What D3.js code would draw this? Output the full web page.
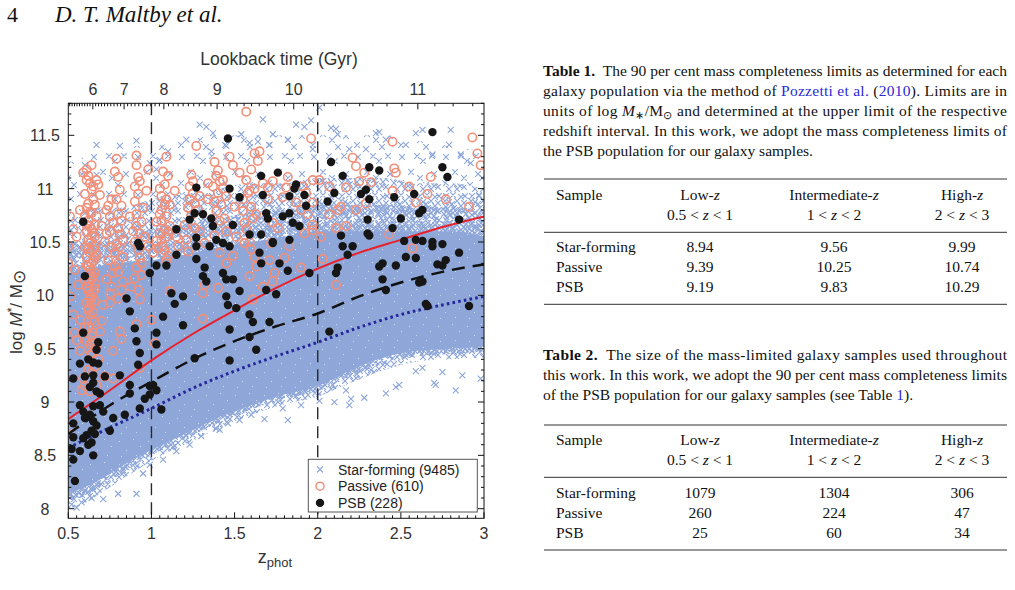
<!DOCTYPE html>
<html><head><meta charset="utf-8">
<script src="https://cdn.jsdelivr.net/npm/d3@7"></script>
<style>
html,body{margin:0;padding:0;background:#fff;}
svg{display:block;}
</style></head>
<body>
<svg id="page" width="1015" height="590"></svg>
<script>
// ---------------- DATA ----------------
const zTicks = [0.5, 1, 1.5, 2, 2.5, 3];
const massTicks = [8, 8.5, 9, 9.5, 10, 10.5, 11, 11.5];
const lookbackTicks = [6, 7, 8, 9, 10, 11];
const zBinEdges = [1, 2];

// 90 per cent completeness limit curves
const limitZ       = [0.5, 0.75, 1, 1.25, 1.5, 1.75, 2, 2.25, 2.5, 2.75, 3];
const limitPassive = [8.84, 9.11, 9.39, 9.64, 9.86, 10.07, 10.25, 10.40, 10.52, 10.64, 10.74];
const limitPSB     = [8.70, 8.97, 9.19, 9.40, 9.57, 9.71, 9.83, 9.99, 10.12, 10.22, 10.29];
const limitSF      = [8.57, 8.76, 8.94, 9.13, 9.29, 9.43, 9.56, 9.70, 9.82, 9.91, 9.99];

// star-forming cloud: density envelopes (log M) on a z grid
const sfZ        = [0.5, 0.6, 0.7, 0.8, 0.9, 1.0, 1.2, 1.4, 1.6, 1.8, 2.0, 2.2, 2.4, 2.6, 2.8, 3.0];
const sfCoreLo   = [8.15, 8.20, 8.28, 8.38, 8.47, 8.55, 8.70, 8.85, 8.97, 9.07, 9.15, 9.30, 9.42, 9.48, 9.50, 9.52];
const sfCoreHi   = [10.20, 10.25, 10.28, 10.30, 10.32, 10.33, 10.38, 10.45, 10.50, 10.55, 10.60, 10.60, 10.60, 10.60, 10.60, 10.55];
const sfMidLo    = [8.07, 8.12, 8.21, 8.31, 8.41, 8.50, 8.65, 8.80, 8.93, 9.03, 9.10, 9.24, 9.36, 9.43, 9.45, 9.47];
const sfMidHi    = [10.48, 10.52, 10.55, 10.56, 10.58, 10.62, 10.66, 10.72, 10.78, 10.80, 10.85, 10.85, 10.85, 10.83, 10.83, 10.78];
const sfDenseLo  = [8.00, 8.05, 8.15, 8.25, 8.35, 8.45, 8.60, 8.75, 8.88, 8.98, 9.05, 9.18, 9.30, 9.38, 9.40, 9.42];
const sfDenseHi  = [10.75, 10.80, 10.82, 10.82, 10.85, 10.90, 10.95, 11.00, 11.05, 11.05, 11.10, 11.10, 11.10, 11.05, 11.05, 11.00];
const sfSparseHi = [11.25, 11.30, 11.35, 11.35, 11.40, 11.40, 11.45, 11.50, 11.50, 11.50, 11.50, 11.50, 11.50, 11.45, 11.40, 11.35];

// individually visible star-forming outliers [z, logM]
const sfOutliers = [
[0.67,11.41],[0.81,11.40],[0.91,11.45],[1.10,11.35],[1.29,11.60],[1.33,11.58],[1.37,11.52],[1.54,11.51],[1.67,11.65],[1.64,11.44],
[1.21,11.46],[1.45,11.40],[1.36,11.35],[1.71,11.41],[1.59,11.43],[0.60,11.22],[0.67,11.13],[0.99,11.24],[1.05,11.27],[1.03,11.18],
[1.96,11.64],[2.01,11.76],[2.08,11.57],[2.11,11.56],[2.12,11.51],[2.35,11.52],[2.37,11.53],[2.41,11.46],[2.59,11.52],[2.63,11.55],
[2.79,11.41],[2.80,11.55],[1.73,11.51],[1.82,11.46],[1.87,11.60],[1.92,11.58],[1.97,11.37],[2.53,11.41],[2.69,11.32],[2.86,11.32],
[2.92,11.24],[2.99,11.10],[2.97,10.93],[2.29,11.37],[2.19,11.37],
[0.80,8.14],[0.91,8.14],[0.95,8.33],[0.99,8.41],[1.07,8.46],[1.13,8.58],[1.15,8.54],[1.23,8.60],[1.30,8.68],[1.39,8.75],[1.41,8.74],
[1.46,8.80],[1.53,8.83],[1.60,8.88],[1.68,8.84],[0.71,8.09],[0.64,8.10],[0.55,8.01],[0.52,8.04],[0.58,8.06],
[1.82,8.83],[1.79,8.94],[1.90,8.97],[2.01,9.01],[2.10,9.00],[2.19,8.97],[2.20,9.03],[2.28,9.04],[2.41,9.08],[2.47,9.14],[2.49,9.16],
[2.70,9.18],[2.71,9.16],[2.83,9.11],[2.75,9.28],[2.87,9.25],[2.98,9.22],[2.59,9.29],[2.63,9.32],[2.09,9.16],[2.17,9.11],[1.95,9.21]
];

// passive galaxies [z, logM]
const passive = [
[1.57,11.72],[1.27,11.40],[0.79,11.28],[0.91,11.31],[0.64,11.22],[0.61,11.18],[0.59,11.15],[0.61,11.08],[0.63,11.05],[0.65,11.02],
[0.68,11.04],[0.69,10.94],[0.64,10.99],[0.78,11.16],[0.80,11.11],[0.81,10.99],[0.79,10.90],[0.91,11.22],[0.92,11.11],[0.93,11.07],
[0.90,11.02],[0.98,11.18],[0.97,10.98],[1.09,11.30],[1.07,11.16],[1.10,11.12],[1.08,11.04],[1.14,10.98],[1.09,10.90],[1.11,10.85],
[1.24,11.13],[1.25,11.07],[1.23,11.02],[1.29,10.93],[1.22,10.82],[1.38,11.25],[1.39,11.12],[1.41,11.07],[1.43,11.08],[1.37,11.02],
[1.40,10.96],[1.45,10.93],[1.47,11.30],[1.49,11.22],[1.53,11.15],[1.62,11.33],[1.65,11.35],[1.64,11.26],[1.60,11.18],[1.67,11.05],[1.70,11.01],
[0.51,10.74],[0.57,10.80],[0.61,10.82],[0.64,10.77],[0.67,10.74],[0.63,10.65],[0.65,10.58],[0.62,10.52],[0.66,10.46],[0.63,10.40],
[0.65,10.33],[0.62,10.27],[0.66,10.21],[0.64,10.15],[0.61,10.08],[0.65,10.02],[0.63,9.96],[0.62,10.70],[0.64,10.62],[0.66,10.55],
[0.63,10.49],[0.65,10.43],[0.61,10.36],[0.64,10.30],[0.63,10.24],[0.65,10.18],[0.62,10.12],[0.66,10.06],[0.63,10.00],[0.64,9.92],
[0.62,9.88],[0.65,9.84],[0.61,10.60],[0.66,10.66],[0.60,10.45],[0.67,10.38],[0.62,10.86],[0.65,10.90],[0.60,10.95],[0.67,11.08],[0.62,11.12],
[0.60,10.75],[0.63,10.78],[0.66,10.85],[0.61,10.66],[0.64,10.56],[0.62,10.44],[0.66,10.35],[0.61,10.28],[0.63,10.20],[0.60,10.14],
[0.66,10.11],[0.62,10.04],[0.64,9.98],[0.66,9.95],[0.61,9.93],[0.63,9.82],[0.66,9.75],[0.62,9.70],[0.64,9.62],[0.61,9.57],
[0.65,9.55],[0.63,9.44],[0.66,9.33],[0.64,9.27],[0.62,9.20],[0.67,9.16],[0.63,9.10],
[0.50,10.46],[0.50,10.30],[0.54,10.24],[0.56,10.10],[0.51,9.99],[0.55,10.55],[0.53,10.62],
[0.73,10.80],[0.75,10.74],[0.70,10.65],[0.75,10.60],[0.80,10.63],[0.81,10.57],[0.83,10.52],[0.78,10.40],[0.80,10.30],[0.77,10.21],
[0.83,10.13],[0.75,10.02],[0.79,10.48],[0.76,10.90],[0.82,10.84],[0.72,10.50],
[0.74,10.84],[0.77,10.68],[0.73,10.58],[0.76,10.45],[0.74,10.33],[0.78,10.27],[0.73,10.15],[0.76,10.08],
[0.80,10.76],[0.82,10.70],[0.81,10.45],[0.83,10.36],[0.80,10.22],[0.82,10.05],[0.80,9.97],
[0.87,10.74],[0.91,10.76],[0.94,10.69],[0.89,10.60],[0.96,10.55],[0.98,10.46],[0.93,10.35],[0.91,10.26],[0.94,10.19],[0.88,10.08],
[0.93,9.96],[0.90,10.88],[0.92,10.95],[0.95,10.82],
[0.91,10.65],[0.93,10.58],[0.90,10.50],[0.92,10.43],[0.94,10.30],[0.90,10.16],[0.92,10.05],
[1.06,10.80],[1.09,10.74],[1.03,10.69],[1.11,10.65],[1.05,10.58],[1.09,10.55],[1.03,10.51],[1.07,10.46],[1.01,10.40],[1.10,10.37],
[1.15,10.55],[1.21,10.52],[1.16,10.46],[1.22,10.41],[1.11,10.04],[1.08,10.62],[1.06,10.70],[1.05,11.00],
[1.06,10.93],[1.08,10.85],[1.05,10.76],[1.10,10.60],[1.06,10.52],[1.04,10.44],[1.08,10.42],[1.09,10.33],
[1.25,10.96],[1.23,10.90],[1.26,10.86],[1.24,10.75],[1.20,10.66],[1.26,10.63],
[1.34,10.90],[1.39,10.79],[1.44,10.72],[1.50,10.83],[1.55,10.79],[1.60,10.83],[1.63,10.76],[1.56,10.68],[1.51,10.55],[1.56,10.49],
[1.60,10.43],[1.70,10.90],[1.29,10.60],[1.32,10.49],[1.41,10.40],[1.45,10.30],[1.49,10.37],[1.31,10.02],[1.32,10.10],[1.59,10.18],
[1.63,10.27],[1.71,10.33],[1.67,10.08],[1.61,9.96],[1.28,10.80],[1.34,11.05],[1.58,10.96],[1.62,11.00],[1.40,10.07],
[1.40,11.17],[1.43,11.00],[1.38,10.88],[1.42,10.85],[1.41,10.70],[1.45,10.60],[1.38,10.56],
[1.57,11.08],[1.59,10.98],[1.55,10.90],[1.61,10.72],[1.57,10.62],[1.59,10.50],[1.62,10.36],
[0.53,9.82],[0.54,9.65],[0.57,9.77],[0.62,9.86],[0.64,9.77],[0.65,9.65],[0.69,9.66],[0.71,9.91],[0.75,9.93],[0.81,9.66],
[0.82,9.59],[0.77,9.48],[0.57,9.48],[0.63,9.54],[0.67,9.52],[0.65,9.46],[0.59,9.22],[0.60,9.15],[0.58,9.11],[0.72,9.24],
[0.77,9.22],[0.51,8.77],[0.91,9.73],[1.00,9.77],[1.02,9.55],[0.93,9.32],[1.31,9.78],[0.55,9.58],[0.60,9.70],[0.62,9.30],[0.68,9.40],[0.70,9.76],
[1.96,11.47],[2.21,11.29],[2.23,11.21],[2.45,11.44],[2.46,11.19],[2.47,11.15],[2.68,11.11],[2.93,11.48],[2.96,11.33],[2.98,11.22],
[1.73,11.07],[1.82,11.11],[1.81,11.01],[1.91,11.02],[1.97,11.08],[2.01,11.08],[2.07,11.02],[2.17,11.01],[2.25,11.07],[2.28,11.15],
[2.32,11.06],[2.55,11.02],[2.66,10.95],[2.77,10.90],[2.91,10.83],
[1.79,10.92],[1.87,10.87],[1.93,10.96],[1.97,10.87],[2.07,10.76],[2.12,10.80],[2.14,10.83],[2.23,10.80],[2.29,10.86],[2.45,10.98],[2.59,10.87],
[1.73,10.68],[1.76,10.63],[1.90,10.80],[1.94,10.76],[1.97,10.66],[2.11,10.63],[2.17,10.65],[1.92,10.58],[1.97,10.61],[2.43,10.57],
[2.57,10.44],[1.72,10.49],[1.83,10.46],[2.02,10.55],[2.03,10.34],[1.74,10.21],[1.90,10.26],[1.73,10.13],[2.11,10.10],[1.80,10.35]
];

// post-starburst galaxies [z, logM]
const psb = [
[1.46,11.47],[1.27,11.01],[1.47,11.00],[1.53,10.92],[1.66,11.12],[1.67,10.94],[0.59,10.69],[0.92,10.49],[0.93,10.46],[1.15,10.62],
[1.26,10.77],[1.31,10.76],[1.23,10.71],[1.36,10.72],[1.37,10.65],[1.49,10.66],[1.27,10.54],[1.27,10.46],[1.35,10.46],[1.39,10.52],
[1.43,10.49],[1.47,10.46],[1.59,10.57],[1.66,10.57],[1.73,10.49],[1.69,10.77],[1.70,10.72],[1.15,10.38],[1.03,10.28],[1.09,10.28],
[0.99,10.21],[0.60,10.18],[1.27,10.34],[1.32,10.26],[1.31,10.18],[1.33,10.13],[1.43,10.21],[1.45,10.15],[1.49,10.15],[1.53,10.04],
[1.65,10.40],[1.66,10.30],[1.12,10.02],[1.19,9.99],[1.14,9.92],[0.85,9.97],[1.45,9.99],[1.46,9.91],[1.69,10.05],
[2.69,11.53],[2.08,11.25],[1.76,11.15],[2.31,11.20],[2.37,11.17],[2.75,11.20],[2.78,11.11],[2.15,11.12],[1.87,11.04],[1.86,11.00],
[1.92,10.94],[1.83,10.93],[2.10,10.96],[2.06,10.88],[2.26,10.95],[2.29,10.99],[2.31,10.90],[2.46,10.92],[2.58,10.95],[2.63,10.80],
[2.61,10.77],[1.93,10.84],[1.79,10.74],[1.83,10.77],[1.85,10.68],[1.89,10.65],[2.50,10.72],[2.30,10.71],[2.45,10.63],[2.85,10.71],
[1.83,10.52],[1.73,10.50],[2.14,10.56],[2.30,10.58],[2.31,10.56],[2.15,10.46],[2.21,10.46],[2.52,10.51],[2.59,10.52],[2.63,10.51],
[2.69,10.50],[2.69,10.46],[2.75,10.48],[2.18,10.38],[2.85,10.40],[2.53,10.36],[2.59,10.35],[1.77,10.30],[1.82,10.23],[2.39,10.30],
[2.37,10.27],[2.47,10.28],[2.72,10.29],[2.75,10.28],[2.77,10.33],[2.12,10.26],[2.11,10.21],[1.95,10.21],[2.39,10.15],[2.61,10.12],
[2.63,10.13],[2.41,10.05],[1.75,10.01],[2.65,9.92],[2.91,9.90],
[1.07,9.80],[1.19,9.72],[0.87,9.85],[0.59,9.65],[0.68,9.56],[0.67,9.49],[0.90,9.69],[0.91,9.57],[0.93,9.46],[1.03,9.65],
[1.03,9.54],[0.53,9.22],[0.57,9.36],[0.62,9.40],[0.65,9.37],[0.68,9.36],[0.60,9.24],[0.65,9.25],[0.72,9.24],[0.81,9.25],
[0.92,9.35],[0.63,9.14],[0.65,9.18],[0.67,9.10],[0.69,9.08],[0.87,9.16],[0.87,9.08],[0.99,9.15],[1.01,9.16],[0.99,9.07],
[0.96,9.03],[1.03,9.11],[0.93,8.94],[1.06,8.93],[0.57,8.97],[0.59,8.91],[0.63,8.88],[0.65,8.96],[0.69,8.97],[0.71,8.91],
[0.77,8.85],[0.84,8.88],[0.53,8.80],[0.65,8.82],[0.67,8.78],[0.64,8.73],[0.61,8.69],[0.75,8.73],[0.53,8.67],[0.59,8.66],
[0.64,8.62],[0.52,8.56],[0.57,8.54],[0.65,8.50],[0.53,8.46],[0.54,8.26],[1.47,9.39],[1.26,9.41],[1.47,9.68],[1.51,9.88],
[1.59,9.82],[1.61,9.75],[1.71,9.75],[1.59,9.61],[1.63,9.49],[2.07,9.66],[2.66,9.90],[0.62,8.60],[0.66,8.70],[0.60,8.85]
];

const legendLabels = ['Star-forming (9485)', 'Passive (610)', 'PSB (228)'];

// tables
const tableSamples = ['Star-forming', 'Passive', 'PSB'];
const binNames = ['Low-', 'Intermediate-', 'High-'];
const binRanges = [['0.5', '1'], ['1', '2'], ['2', '3']];
const massLimits = [['8.94', '9.56', '9.99'], ['9.39', '10.25', '10.74'], ['9.19', '9.83', '10.29']];
const sampleSizes = [['1079', '1304', '306'], ['260', '224', '47'], ['25', '60', '34']];

// ---------------- STYLE ----------------
const SF_COL = '#8ea7d8', PAS_COL = '#f28f78', PSB_COL = '#161616';
const SANS = '"Liberation Sans", Arial, Helvetica, sans-serif';
const SERIF = '"Liberation Serif", "Times New Roman", Times, serif';
const LINK = '#2a2ad6';

const svg = d3.select('#page');
const X0 = 68.3, X1 = 484, Y0 = 103.3, Y1 = 518.3;
const x = d3.scaleLinear().domain([0.5, 3]).range([X0, X1]);
const y = d3.scaleLinear().domain([7.91, 11.80]).range([Y1, Y0]);

// lookback time (flat LCDM, H0=70, Om=0.3) -> redshift
const AH = 11.130, BH = Math.sqrt(0.7 / 0.3), AGE0 = AH * Math.asinh(BH);
const zFromLookback = t => Math.pow(Math.sinh((AGE0 - t) / AH) / BH, -2 / 3) - 1;

// ---------------- HEADER ----------------
svg.append('text').attr('x', 7).attr('y', 22).style('font', `22px ${SERIF}`).attr('fill', '#111').text('4');
svg.append('text').attr('x', 55).attr('y', 22).style('font', `italic 23px ${SERIF}`).attr('fill', '#111').text('D. T. Maltby et al.');

// ---------------- DEFS ----------------
const defs = svg.append('defs');
defs.append('clipPath').attr('id', 'plotClip').append('rect')
  .attr('x', X0).attr('y', Y0).attr('width', X1 - X0).attr('height', Y1 - Y0);

const crossPath = (cx, cy, s) => `M${cx - s},${cy - s}L${cx + s},${cy + s}M${cx - s},${cy + s}L${cx + s},${cy - s}`;

const pCore = defs.append('pattern').attr('id', 'sfCore').attr('patternUnits', 'userSpaceOnUse').attr('width', 29).attr('height', 23);
pCore.append('rect').attr('width', 29).attr('height', 23).attr('fill', SF_COL);
[[3,4],[17,2],[10,13],[24,9],[5,19],[20,18]].forEach(([a, b]) =>
  pCore.append('rect').attr('x', a).attr('y', b).attr('width', 1).attr('height', 1).attr('fill', '#fff').attr('opacity', 0.6));

const pMid = defs.append('pattern').attr('id', 'sfMid').attr('patternUnits', 'userSpaceOnUse').attr('width', 22).attr('height', 20);
pMid.append('path').attr('fill', 'none').attr('stroke', SF_COL).attr('stroke-width', 1.3)
  .attr('d', [[4,4],[10,3],[17,5],[7,9],[13,8],[19,11],[4,14],[10,15],[16,16],[3,9],[13,13],[19,3],[7,18],[18,19]]
    .map(([a, b]) => crossPath(a, b, 2.8)).join(''));

const pDense = defs.append('pattern').attr('id', 'sfDense').attr('patternUnits', 'userSpaceOnUse').attr('width', 26).attr('height', 24);
pDense.append('path').attr('fill', 'none').attr('stroke', SF_COL).attr('stroke-width', 1.2)
  .attr('d', [[4,4],[11,3],[19,5],[7,10],[15,9],[22,11],[4,15],[12,16],[19,14],[7,21],[15,21],[22,19],[10,12],[18,18],[23,4],[3,9]]
    .map(([a, b]) => crossPath(a, b, 2.8)).join(''));

const pSparse = defs.append('pattern').attr('id', 'sfSparse').attr('patternUnits', 'userSpaceOnUse').attr('width', 44).attr('height', 38);
pSparse.append('path').attr('fill', 'none').attr('stroke', SF_COL).attr('stroke-width', 1.1)
  .attr('d', [[6,5],[27,9],[38,22],[15,20],[5,31],[30,33],[21,4],[36,4],[24,26]].map(([a, b]) => crossPath(a, b, 2.8)).join(''));

// ---------------- PLOT ----------------
const plot = svg.append('g').attr('clip-path', 'url(#plotClip)');
const band = (lo, hi) => d3.area().curve(d3.curveMonotoneX)
  .x((d, i) => x(sfZ[i])).y0((d, i) => y(lo[i])).y1((d, i) => y(hi[i]))(sfZ);

plot.append('path').attr('d', band(sfDenseHi, sfSparseHi)).attr('fill', 'url(#sfSparse)');
plot.append('path').attr('d', band(sfDenseLo, sfDenseHi)).attr('fill', 'url(#sfDense)');
plot.append('path').attr('d', band(sfMidLo, sfMidHi)).attr('fill', 'url(#sfMid)');
plot.append('path').attr('d', band(sfCoreLo, sfCoreHi)).attr('fill', 'url(#sfCore)');

plot.append('g').selectAll('path').data(sfOutliers).join('path')
  .attr('d', d => crossPath(x(d[0]), y(d[1]), 3))
  .attr('fill', 'none').attr('stroke', SF_COL).attr('stroke-width', 1.1);

// redshift bin edges
plot.append('g').selectAll('line').data(zBinEdges).join('line')
  .attr('x1', d => x(d)).attr('x2', d => x(d)).attr('y1', Y0).attr('y2', Y1)
  .attr('stroke', '#2a2a2a').attr('stroke-width', 1.4).attr('stroke-dasharray', '12,7');

// passive
plot.append('g').selectAll('circle').data(passive).join('circle')
  .attr('cx', d => x(d[0])).attr('cy', d => y(d[1])).attr('r', 4.2)
  .attr('fill', 'none').attr('stroke', PAS_COL).attr('stroke-width', 1.6);

// limit curves
const limLine = vals => d3.line().curve(d3.curveMonotoneX).x((d, i) => x(limitZ[i])).y((d, i) => y(vals[i]))(limitZ);
plot.append('path').attr('d', limLine(limitSF)).attr('fill', 'none').attr('stroke', '#26269a')
  .attr('stroke-width', 3).attr('stroke-dasharray', '2.6,3.2');
plot.append('path').attr('d', limLine(limitPSB)).attr('fill', 'none').attr('stroke', '#111')
  .attr('stroke-width', 2.5).attr('stroke-dasharray', '13,8');
plot.append('path').attr('d', limLine(limitPassive)).attr('fill', 'none').attr('stroke', '#e8202a')
  .attr('stroke-width', 2);

// PSB
plot.append('g').selectAll('circle').data(psb).join('circle')
  .attr('cx', d => x(d[0])).attr('cy', d => y(d[1])).attr('r', 4.2)
  .attr('fill', PSB_COL);

// ---------------- AXES ----------------
const ax = svg.append('g').attr('stroke', '#111').attr('stroke-width', 1);
const yMinor = y.ticks(40).filter(v => !massTicks.some(m => Math.abs(m - v) < 1e-6));
[[X0, 1], [X1, -1]].forEach(([xx, dir]) => {
  ax.append('g').selectAll('line').data(massTicks).join('line')
    .attr('x1', xx).attr('x2', xx + dir * 6).attr('y1', d => y(d)).attr('y2', d => y(d));
  ax.append('g').selectAll('line').data(yMinor).join('line')
    .attr('x1', xx).attr('x2', xx + dir * 3).attr('y1', d => y(d)).attr('y2', d => y(d));
});
const xMinor = x.ticks(50).filter(v => !zTicks.some(m => Math.abs(m - v) < 1e-6));
ax.append('g').selectAll('line').data(zTicks).join('line')
  .attr('x1', d => x(d)).attr('x2', d => x(d)).attr('y1', Y1).attr('y2', Y1 - 6);
ax.append('g').selectAll('line').data(xMinor).join('line')
  .attr('x1', d => x(d)).attr('x2', d => x(d)).attr('y1', Y1).attr('y2', Y1 - 3);
const lbMinor = d3.range(51, 114).map(v => v / 10)
  .filter(t => !lookbackTicks.includes(t))
  .map(zFromLookback).filter(z => z > 0.5 && z < 3);
ax.append('g').selectAll('line').data(lookbackTicks).join('line')
  .attr('x1', d => x(zFromLookback(d))).attr('x2', d => x(zFromLookback(d))).attr('y1', Y0).attr('y2', Y0 + 6);
ax.append('g').selectAll('line').data(lbMinor).join('line')
  .attr('x1', d => x(d)).attr('x2', d => x(d)).attr('y1', Y0).attr('y2', Y0 + 3);
svg.append('rect').attr('x', X0).attr('y', Y0).attr('width', X1 - X0).attr('height', Y1 - Y0)
  .attr('fill', 'none').attr('stroke', '#111').attr('stroke-width', 1);

// tick labels
const lab = svg.append('g').style('font', `16px ${SANS}`).attr('fill', '#333').attr('text-anchor', 'middle');
lab.selectAll('text.ym').data(massTicks).join('text').attr('class', 'ym')
  .attr('x', 45).attr('y', d => y(d) + 6).text(d => d3.format('')(d));
lab.selectAll('text.zx').data(zTicks).join('text').attr('class', 'zx')
  .attr('x', d => x(d)).attr('y', 539).text(d => d);
lab.selectAll('text.lb').data(lookbackTicks).join('text').attr('class', 'lb')
  .attr('x', d => x(zFromLookback(d))).attr('y', 95).text(d => d);

svg.append('text').attr('x', 279).attr('y', 65).attr('text-anchor', 'middle')
  .style('font', `17.5px ${SANS}`).attr('fill', '#333').text('Lookback time (Gyr)');

const xl = svg.append('text').attr('x', 275).attr('y', 563).attr('text-anchor', 'middle')
  .style('font', `18px ${SANS}`).attr('fill', '#333');
xl.append('tspan').text('z');
xl.append('tspan').attr('dy', 4).style('font-size', '13px').text('phot');

const yl = svg.append('text').attr('transform', 'translate(22,312) rotate(-90)').attr('text-anchor', 'middle')
  .style('font', `17px ${SANS}`).attr('fill', '#333');
yl.append('tspan').text('log ');
yl.append('tspan').style('font-style', 'italic').text('M');
yl.append('tspan').attr('dy', -6).style('font-size', '12px').text('*');
yl.append('tspan').attr('dy', 6).text('/ M');
yl.append('tspan').attr('dy', 3).text('\u2299');

// legend
const lg = svg.append('g');
lg.append('rect').attr('x', 308.3).attr('y', 459.3).attr('width', 169).attr('height', 52.7)
  .attr('fill', '#fff').attr('stroke', '#555').attr('stroke-width', 1);
const rowY = i => 469.5 + i * 16.7;
lg.append('path').attr('d', crossPath(320, rowY(0), 3)).attr('fill', 'none').attr('stroke', SF_COL).attr('stroke-width', 1.1);
lg.append('circle').attr('cx', 320).attr('cy', rowY(1)).attr('r', 4).attr('fill', 'none').attr('stroke', PAS_COL).attr('stroke-width', 1.5);
lg.append('circle').attr('cx', 320).attr('cy', rowY(2)).attr('r', 4.2).attr('fill', PSB_COL);
lg.selectAll('text').data(legendLabels).join('text')
  .attr('x', 338).attr('y', (d, i) => rowY(i) + 5).style('font', `14px ${SANS}`).attr('fill', '#222').text(d => d);

// ---------------- TABLES ----------------
const TX = 543, TW = 464;
const tg = svg.append('g').style('font', `15.5px ${SERIF}`).attr('fill', '#111');

function captionLine(yy, parts, justify) {
  const t = tg.append('text').attr('x', TX).attr('y', yy).attr('xml:space', 'preserve');
  if (justify) t.attr('textLength', TW).attr('lengthAdjust', 'spacing');
  parts.forEach(p => {
    const s = t.append('tspan').text(p.t);
    if (p.b) s.style('font-weight', 'bold');
    if (p.i) s.style('font-style', 'italic');
    if (p.c) s.attr('fill', p.c);
    if (p.dy) s.attr('dy', p.dy);
    if (p.fs) s.style('font-size', p.fs);
  });
}
function zRange(t, lo, hi) {
  t.append('tspan').text(lo + ' < ');
  t.append('tspan').style('font-style', 'italic').text('z');
  t.append('tspan').text(' < ' + hi);
}
function drawTable(top, rowsY, header1, header2, midRule, bottomRule, values) {
  [top, midRule, bottomRule].forEach(ry => tg.append('line').attr('x1', 544).attr('x2', 1007)
    .attr('y1', ry).attr('y2', ry).attr('stroke', '#333').attr('stroke-width', 1));
  tg.append('text').attr('x', 556).attr('y', header1).text('Sample');
  const cx = [700, 834, 962];
  binNames.forEach((n, i) => {
    const t = tg.append('text').attr('x', cx[i]).attr('y', header1).attr('text-anchor', 'middle');
    t.append('tspan').text(n); t.append('tspan').style('font-style', 'italic').text('z');
    const r = tg.append('text').attr('x', cx[i]).attr('y', header2).attr('text-anchor', 'middle');
    zRange(r, binRanges[i][0], binRanges[i][1]);
  });
  tableSamples.forEach((s, j) => {
    tg.append('text').attr('x', 556).attr('y', rowsY[j]).text(s);
    values[j].forEach((v, i) => tg.append('text').attr('x', cx[i]).attr('y', rowsY[j]).attr('text-anchor', 'middle').text(v));
  });
}

captionLine(76, [{t: 'Table 1.', b: 1}, {t: '  The 90 per cent mass completeness limits as determined for each'}], true);
captionLine(95.5, [{t: 'galaxy population via the method of '}, {t: 'Pozzetti et al.', c: LINK}, {t: ' ('}, {t: '2010', c: LINK}, {t: '). Limits are in'}], true);
captionLine(115.5, [{t: 'units of log '}, {t: 'M', i: 1}, {t: '\u2217', dy: 3, fs: '11px'}, {t: '/M', dy: -3}, {t: '\u2299', dy: 3, fs: '11px'}, {t: ' and determined at the upper limit of the respective', dy: -3}], true);
captionLine(135.5, [{t: 'redshift interval. In this work, we adopt the mass completeness limits of'}], true);
captionLine(156, [{t: 'the PSB population for our galaxy samples.'}], false);
drawTable(179, [252, 272, 292], 200, 220, 232.3, 304.3, massLimits);

captionLine(359.5, [{t: 'Table 2.', b: 1}, {t: '  The size of the mass-limited galaxy samples used throughout'}], true);
captionLine(379.5, [{t: 'this work. In this work, we adopt the 90 per cent mass completeness limits'}], true);
captionLine(399.5, [{t: 'of the PSB population for our galaxy samples (see Table '}, {t: '1', c: LINK}, {t: ').'}], false);
drawTable(425, [498, 518, 538], 445, 464.5, 477.3, 550, sampleSizes);
</script>
</body></html>
